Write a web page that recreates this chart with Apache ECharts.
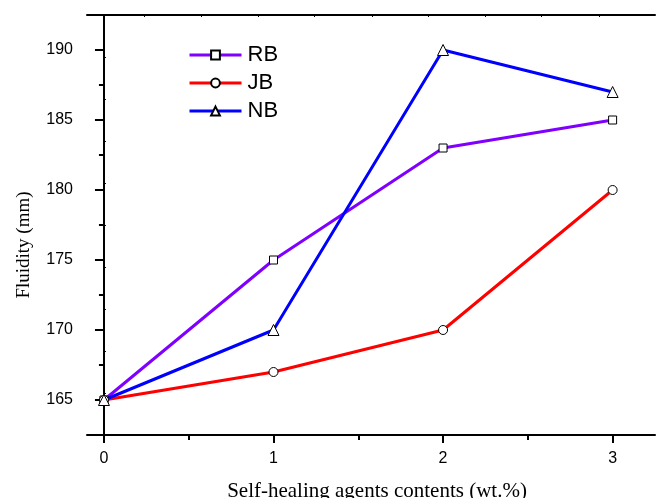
<!DOCTYPE html>
<html>
<head>
<meta charset="utf-8">
<script src="https://cdn.jsdelivr.net/npm/echarts@6/dist/echarts.min.js"></script>
<style>
  html, body { margin: 0; padding: 0; background: #fff; }
  #chart { width: 659px; height: 498px; }
</style>
</head>
<body>
<div id="chart"></div>
<script>
// wt.% of self-healing agent
var contents = [0, 1, 2, 3];
var rbValues = [165, 175, 183, 185];
var jbValues = [165, 167, 170, 180];
var nbValues = [165, 170, 190, 187];

var xMajorTicks = [0, 1, 2, 3];
var xMinorTicks = [0.5, 1.5, 2.5];
var yMajorTicks = [165, 170, 175, 180, 185, 190];
var yMinorTicks = [162.5, 167.5, 172.5, 177.5, 182.5, 187.5, 192.5];
var topTicks = [0.24, 0.575, 0.91, 1.24, 1.58, 1.91, 2.25, 2.58, 2.92];
var rightTicks = [165.5, 168.5, 171.5, 174.5, 177.5, 180.5, 183.5, 186.5, 189.5];

function pairs(vals) {
  return contents.map(function (x, i) { return [x, vals[i]]; });
}

var axisColor = "#000";
var sansFont = "'Liberation Sans', Arial, sans-serif";
var serifFont = "'Liberation Serif', 'Times New Roman', serif";

var chart = echarts.init(document.getElementById("chart"));

function lineSeries(name, data, color, symbol, size) {
  return {
    name: name,
    type: "line",
    data: pairs(data),
    symbol: symbol,
    symbolSize: size,
    showAllSymbol: true,
    lineStyle: { color: color, width: 3 },
    itemStyle: { color: "#fff", borderColor: "#000", borderWidth: 1 },
    emphasis: { disabled: true },
    animation: false,
  };
}

chart.setOption({
  backgroundColor: "#fff",
  grid: { left: 87, right: 4, top: 15, bottom: 63, outerBoundsMode: "none" },
  legend: {
    orient: "vertical",
    left: 188,
    top: 44,
    padding: 0,
    itemWidth: 52,
    itemHeight: 11,
    itemGap: 6,
    lineStyle: { width: 3 },
    textStyle: { fontFamily: sansFont, fontSize: 22, color: "#000", padding: [0, 0, 0, 1] },
    data: ["RB", "JB", "NB"],
  },
  xAxis: [
    {
      type: "value",
      min: -0.1,
      max: 3.25,
      position: "bottom",
      name: "Self-healing agents contents (wt.%)",
      nameLocation: "middle",
      nameGap: 46,
      nameTextStyle: { fontFamily: serifFont, fontSize: 21, color: "#000", padding: [0, 0, 0, 12] },
      axisLine: { lineStyle: { color: axisColor, width: 2 } },
      axisTick: { customValues: xMajorTicks, length: 8, lineStyle: { color: axisColor, width: 2 } },
      axisLabel: {
        customValues: xMajorTicks,
        margin: 16,
        fontFamily: sansFont,
        fontSize: 16,
        color: "#000",
      },
      splitLine: { show: false },
    },
    {
      type: "value",
      min: -0.1,
      max: 3.25,
      position: "bottom",
      axisLine: { show: false },
      axisTick: { customValues: xMinorTicks, length: 5, lineStyle: { color: axisColor, width: 2 } },
      axisLabel: { show: false },
      splitLine: { show: false },
    },
    {
      type: "value",
      min: -0.1,
      max: 3.25,
      position: "top",
      axisLine: { lineStyle: { color: axisColor, width: 2 } },
      axisTick: { customValues: topTicks, inside: true, length: 2, lineStyle: { color: axisColor, width: 1 } },
      axisLabel: { show: false },
      splitLine: { show: false },
    },
  ],
  yAxis: [
    {
      type: "value",
      min: 162.5,
      max: 192.5,
      position: "left",
      name: "Fluidity (mm)",
      nameLocation: "middle",
      nameGap: 53,
      nameTextStyle: { fontFamily: serifFont, fontSize: 19, color: "#000", padding: [0, 40, 0, 0] },
      axisLine: { lineStyle: { color: axisColor, width: 2 } },
      axisTick: { customValues: yMajorTicks, length: 9, lineStyle: { color: axisColor, width: 2 } },
      axisLabel: {
        customValues: yMajorTicks,
        margin: 14,
        fontFamily: sansFont,
        fontSize: 16,
        color: "#000",
      },
      splitLine: { show: false },
    },
    {
      type: "value",
      min: 162.5,
      max: 192.5,
      position: "left",
      axisLine: { show: false },
      axisTick: { customValues: yMinorTicks, length: 5, lineStyle: { color: axisColor, width: 2 } },
      axisLabel: { show: false },
      splitLine: { show: false },
    },
    {
      type: "value",
      min: 162.5,
      max: 192.5,
      position: "right",
      axisLine: { lineStyle: { color: axisColor, width: 2 } },
      axisTick: { customValues: rightTicks, length: 2, lineStyle: { color: axisColor, width: 1 } },
      axisLabel: { show: false },
      splitLine: { show: false },
    },
  ],
  series: [
    lineSeries("RB", rbValues, "#7f00ff", "rect", 8),
    lineSeries("JB", jbValues, "#ff0000", "circle", 9),
    lineSeries("NB", nbValues, "#0000ff", "triangle", 11),
  ],
});
</script>
</body>
</html>
